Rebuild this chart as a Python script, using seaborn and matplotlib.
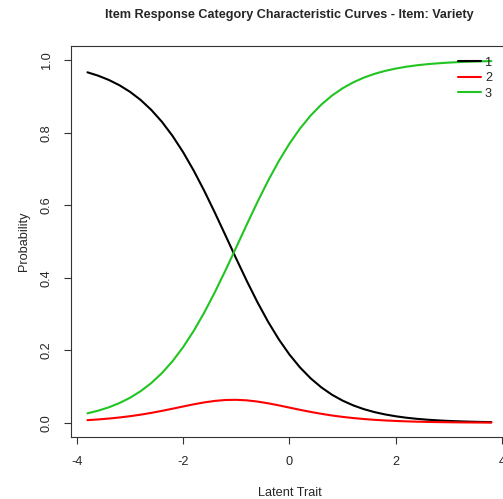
import numpy as np
import pandas as pd
import matplotlib
matplotlib.use("Agg")
import matplotlib.pyplot as plt
import seaborn as sns

theta = [-3.8, -3.6, -3.4, -3.2, -3.0, -2.8, -2.6, -2.4, -2.2, -2.0,
         -1.8, -1.6, -1.4, -1.2, -1.0, -0.8, -0.6, -0.4, -0.2, 0.0,
         0.2, 0.4, 0.6, 0.8, 1.0, 1.2, 1.4, 1.6, 1.8, 2.0,
         2.2, 2.4, 2.6, 2.8, 3.0, 3.2, 3.4, 3.6, 3.8]
cat1 = [0.9666, 0.9574, 0.9457, 0.9311, 0.9129, 0.8905, 0.8631, 0.8303, 0.7914, 0.7464,
        0.6954, 0.6391, 0.5787, 0.5159, 0.4525, 0.3907, 0.3322, 0.2784, 0.2303, 0.1884,
        0.1526, 0.1226, 0.0978, 0.0775, 0.0612, 0.0481, 0.0377, 0.0295, 0.0231, 0.0180,
        0.0140, 0.0109, 0.0085, 0.0066, 0.0051, 0.0040, 0.0031, 0.0024, 0.0019]
cat2 = [0.0073, 0.0093, 0.0117, 0.0146, 0.0182, 0.0224, 0.0273, 0.0329, 0.0388, 0.0450,
        0.0510, 0.0563, 0.0604, 0.0629, 0.0634, 0.0619, 0.0585, 0.0538, 0.0481, 0.0419,
        0.0358, 0.0300, 0.0248, 0.0202, 0.0163, 0.0131, 0.0104, 0.0082, 0.0065, 0.0051,
        0.0040, 0.0031, 0.0024, 0.0019, 0.0015, 0.0011, 0.0009, 0.0007, 0.0005]
cat3 = [0.0261, 0.0334, 0.0426, 0.0543, 0.0689, 0.0871, 0.1095, 0.1369, 0.1697, 0.2086,
        0.2536, 0.3046, 0.3609, 0.4213, 0.4841, 0.5475, 0.6093, 0.6679, 0.7216, 0.7697,
        0.8116, 0.8474, 0.8775, 0.9023, 0.9225, 0.9388, 0.9519, 0.9623, 0.9705, 0.9769,
        0.9820, 0.9860, 0.9891, 0.9915, 0.9934, 0.9949, 0.9960, 0.9969, 0.9976]
categories = ["1", "2", "3"]
colors = ["#000000", "#FF0000", "#22C422"]
xticks = [-4, -2, 0, 2, 4]
yticks = [0.0, 0.2, 0.4, 0.6, 0.8, 1.0]

df = pd.concat([
    pd.DataFrame({"theta": theta, "prob": vals, "cat": c})
    for c, vals in zip(categories, [cat1, cat2, cat3])
])

sns.set_style("white")
plt.rcParams["font.family"] = ["Liberation Sans", "DejaVu Sans"]

fig = plt.figure(figsize=(5.03, 4.99), dpi=100)
W, H = 503, 499
left, right, top, bottom = 71.3, 507.5, 45.7, 437.3
ax = fig.add_axes([left / W, 1 - bottom / H, (right - left) / W, (bottom - top) / H])

sns.lineplot(data=df, x="theta", y="prob", hue="cat", hue_order=categories,
             palette=colors, linewidth=1.5, errorbar=None, ax=ax, legend=True)

ax.set_xlim(-4.104, 4.104)
ax.set_ylim(-0.04, 1.04)
ax.set_xticks(xticks)
ax.set_xticklabels([str(t) for t in xticks])
ax.set_yticks(yticks)
ax.set_yticklabels([f"{t:.1f}" for t in yticks], rotation=90, va="center")
fs = 9.2
ax.tick_params(axis="both", direction="out", length=5.2, width=0.8, color="#333333",
               labelsize=fs, pad=8, left=True, bottom=True)
for s in ax.spines.values():
    s.set_color("#333333")
    s.set_linewidth(0.8)

ax.set_xlabel("Latent Trait", fontsize=fs, labelpad=14)
ax.set_ylabel("Probability", fontsize=fs, labelpad=8)
fig.text((left + right) / 2 / W, 1 - 15 / H,
         "Item Response Category Characteristic Curves - Item: Variety",
         ha="center", va="center", fontsize=9.1, fontweight="bold")

handles, labels = ax.get_legend_handles_labels()
ax.legend(handles, labels, frameon=False, loc="upper right",
          bbox_to_anchor=(492 / W, 1 - 56.5 / H), bbox_transform=fig.transFigure,
          fontsize=fs, handlelength=1.8, handletextpad=0.3, labelspacing=0.28,
          borderpad=0, borderaxespad=0)

fig.savefig("out.png", dpi=100)
